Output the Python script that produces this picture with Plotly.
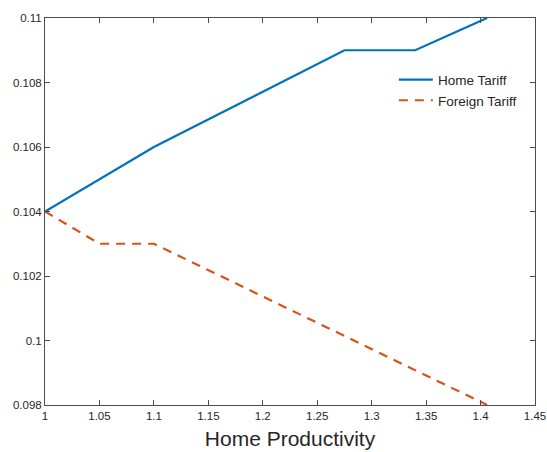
import plotly.graph_objects as go

# Home productivity grid and the resulting optimal tariffs
home_x = [1.0, 1.05, 1.1, 1.275, 1.34, 1.406]
home_tariff = [0.104, 0.105, 0.106, 0.109, 0.109, 0.110]

foreign_x = [1.0, 1.05, 1.1, 1.406]
foreign_tariff = [0.104, 0.103, 0.103, 0.098]

x_ticks = [1, 1.05, 1.1, 1.15, 1.2, 1.25, 1.3, 1.35, 1.4, 1.45]
x_tick_labels = ["1", "1.05", "1.1", "1.15", "1.2", "1.25", "1.3", "1.35", "1.4", "1.45"]
y_ticks = [0.098, 0.1, 0.102, 0.104, 0.106, 0.108, 0.11]
y_tick_labels = ["0.098", "0.1", "0.102", "0.104", "0.106", "0.108", "0.11"]

FONT = "Liberation Sans, Arial, Helvetica, sans-serif"
AXIS_COLOR = "#4d4d4d"
TEXT_COLOR = "#262626"

fig = go.Figure()
fig.add_trace(go.Scatter(
    x=home_x, y=home_tariff, mode="lines", name="Home Tariff",
    line=dict(color="#0072BD", width=2.2),
))
fig.add_trace(go.Scatter(
    x=foreign_x, y=foreign_tariff, mode="lines", name="Foreign Tariff",
    line=dict(color="#D95319", width=2.2, dash="9px,7px"),
))

axis_common = dict(
    showgrid=False, zeroline=False, showline=True, linecolor=AXIS_COLOR,
    linewidth=1, mirror="allticks", ticks="inside", ticklen=5,
    tickcolor=AXIS_COLOR, tickwidth=1, automargin=False,
    tickfont=dict(family=FONT, size=11.5, color=TEXT_COLOR),
)

fig.update_layout(
    width=547, height=452,
    margin=dict(l=45, r=12, t=18, b=47),
    paper_bgcolor="white", plot_bgcolor="white",
    showlegend=True,
    legend=dict(
        x=0.712, y=0.88, xanchor="left", yanchor="top",
        bgcolor="rgba(0,0,0,0)", borderwidth=0,
        font=dict(family=FONT, size=13.5, color=TEXT_COLOR),
        tracegroupgap=0, itemwidth=34,
    ),
    xaxis=dict(
        range=[1, 1.45], tickvals=x_ticks, ticktext=x_tick_labels,
        title=dict(text="Home Productivity", standoff=10,
                   font=dict(family=FONT, size=21, color=TEXT_COLOR)),
        **axis_common,
    ),
    yaxis=dict(
        range=[0.098, 0.11], tickvals=y_ticks, ticktext=y_tick_labels,
        **axis_common,
    ),
)

fig.write_html("out.html")
